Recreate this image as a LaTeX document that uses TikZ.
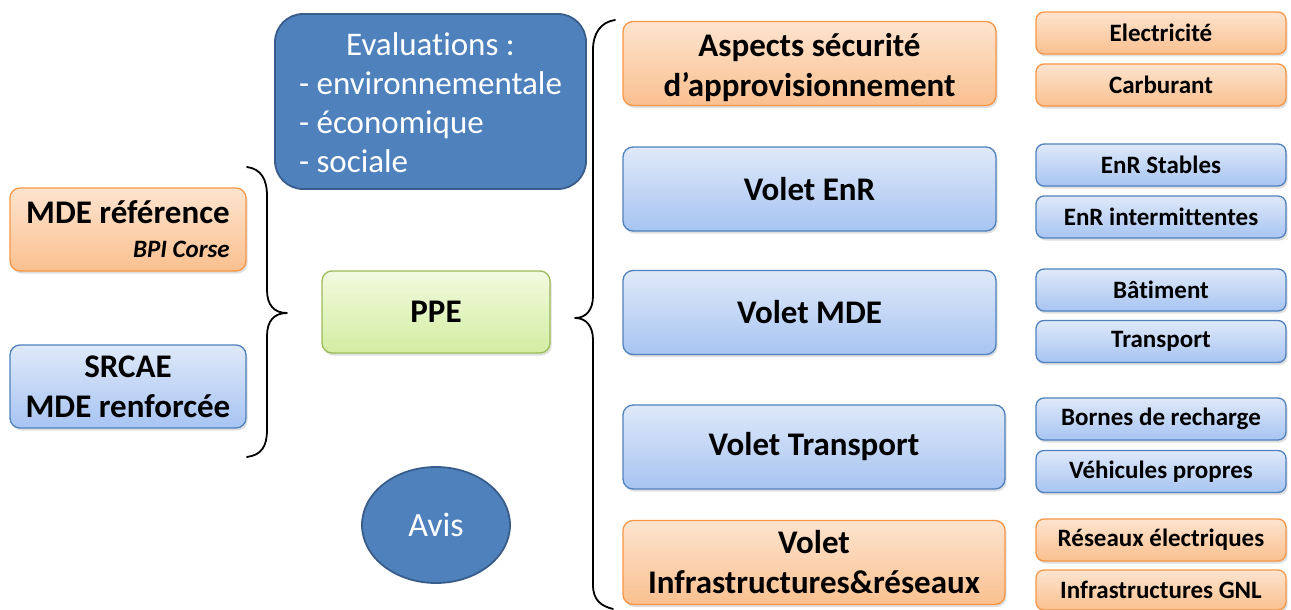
\documentclass[tikz,border=0pt]{standalone}
\usepackage{fontspec}
\setmainfont[Ligatures=CommonOff]{Carlito}
\usetikzlibrary{shapes.geometric,shadows}

\definecolor{orTop}{HTML}{FDE4CF}
\definecolor{orBot}{HTML}{FAC08F}
\definecolor{orLine}{HTML}{F79646}
\definecolor{blTop}{HTML}{DFE9F9}
\definecolor{blBot}{HTML}{A7C4F2}
\definecolor{blLine}{HTML}{4F81BD}
\definecolor{grTop}{HTML}{F2FADF}
\definecolor{grBot}{HTML}{D3EDA2}
\definecolor{grLine}{HTML}{9BBB59}
\definecolor{dkFill}{HTML}{4F81BD}
\definecolor{dkLine}{HTML}{385D8A}

\tikzset{
  box/.style={rounded corners=10pt, line width=1.3pt, align=center, inner sep=0pt,
    font=\bfseries\fontsize{33}{40}\selectfont,
    drop shadow={shadow xshift=1.5pt, shadow yshift=-2.5pt, opacity=0.25}},
  small/.style={minimum width=250pt, minimum height=42pt, rounded corners=8pt,
    font=\bfseries\fontsize{25}{30}\selectfont},
  orbox/.style={box, draw=orLine, top color=orTop, bottom color=orBot},
  blbox/.style={box, draw=blLine, top color=blTop, bottom color=blBot},
  grbox/.style={box, draw=grLine, top color=grTop, bottom color=grBot},
  dkbox/.style={line width=1.8pt, draw=dkLine, fill=dkFill, text=white, align=center, inner sep=0pt},
  volet/.style={minimum width=373pt, minimum height=84pt},
  voletw/.style={minimum width=382pt, minimum height=84pt},
  brace/.style={line width=1.8pt, line cap=round, line join=round},
}

\begin{document}
\begin{tikzpicture}[x=1pt, y=-1pt]
\useasboundingbox (0,0) rectangle (1291,610);

% evaluation block (a strut on the first row pushes the lines down a little)
\node[dkbox, rounded corners=28pt, minimum width=311pt, minimum height=175pt,
      font=\fontsize{33}{39}\selectfont] (eval) at (430.5,101.5)
  {\begin{tabular}{@{}l@{}}\multicolumn{1}{@{}c@{}}{\rule{0pt}{36.5pt}Evaluations :}\\- environnementale\\- économique\\- sociale\end{tabular}};

% left column
\node[orbox, minimum width=236pt, minimum height=83pt, align=right] (mde) at (128,229.5)
  {MDE référence\\[-6pt]{\fontsize{25}{30}\selectfont\itshape BPI Corse}};
\node[blbox, minimum width=236pt, minimum height=83pt] (srcae) at (128,386.5)
  {SRCAE\\MDE renforcée};

% centre
\node[grbox, minimum width=228pt, minimum height=82pt] (ppe) at (436,312) {PPE};
\node[dkbox, ellipse, minimum width=148pt, minimum height=116pt,
      font=\fontsize{34}{40}\selectfont] (avis) at (436,525) {Avis};

% middle column
\node[orbox, volet] (asp) at (809.5,63.5) {\rule{0pt}{32pt}Aspects sécurité\\d’approvisionnement};
\node[blbox, volet] (venr) at (809.5,189) {Volet EnR};
\node[blbox, volet] (vmde) at (809.5,312.5) {Volet MDE};
\node[blbox, voletw] (vtra) at (814,447) {Volet Transport};
\node[orbox, voletw] (vinf) at (814,562.5) {Volet\\Infrastructures\&réseaux};

% right column
\node[orbox, small] (elec) at (1161,33) {Electricité};
\node[orbox, small] (carb) at (1161,85) {Carburant};
\node[blbox, small] (stab) at (1161,165) {EnR Stables};
\node[blbox, small] (inter) at (1161,217) {EnR intermittentes};
\node[blbox, small] (bat) at (1161,290) {Bâtiment};
\node[blbox, small] (trsp) at (1161,341.5) {Transport};
\node[blbox, small] (born) at (1161,419) {Bornes de recharge};
\node[blbox, small] (vehi) at (1161,471.5) {Véhicules propres};
\node[orbox, small] (rese) at (1161,540) {Réseaux électriques};
\node[orbox, small, minimum height=40pt] (gnl) at (1161,590) {Infrastructures GNL};

% braces
\draw[brace] (247,167) .. controls (261,169) and (267,179) .. (267,196)
  -- (267,290) .. controls (267,305) and (274,313) .. (287,313)
  .. controls (274,313) and (267,321) .. (267,336)
  -- (267,430) .. controls (267,447) and (261,455) .. (247,457);
\draw[brace] (615,20) .. controls (601,22) and (593,33) .. (593,50)
  -- (593,296) .. controls (593,310) and (586,318) .. (575,318)
  .. controls (586,318) and (593,326) .. (593,340)
  -- (593,585) .. controls (593,600) and (601,606) .. (613,609);
\end{tikzpicture}
\end{document}
